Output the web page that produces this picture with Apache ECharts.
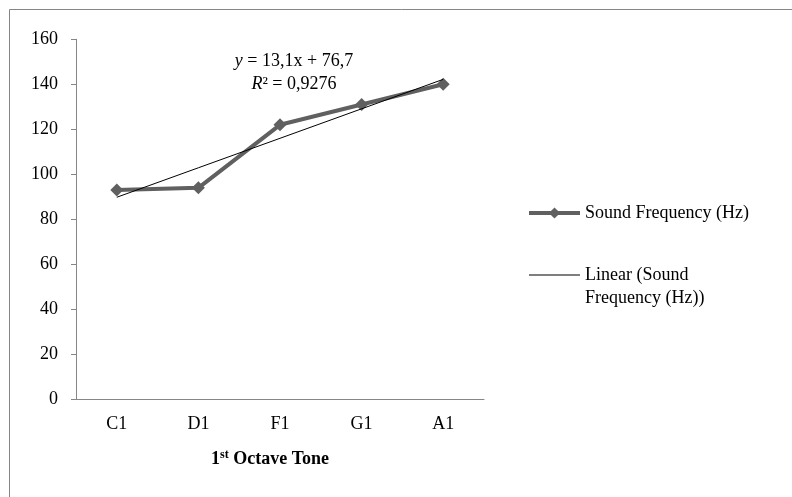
<!DOCTYPE html>
<html>
<head>
<meta charset="utf-8">
<script src="https://cdn.jsdelivr.net/npm/echarts@6/dist/echarts.min.js"></script>
<style>
  html, body { margin: 0; padding: 0; background: #fff; }
  #chart { width: 792px; height: 497px; }
</style>
</head>
<body>
<div id="chart"></div>
<script>
// Tones of the first octave and their measured sound frequency
const tones = ['C1', 'D1', 'F1', 'G1', 'A1'];
const frequency = [93, 94, 122, 131, 140];
// Linear trendline y = 13,1x + 76,7 evaluated at each tone
const trend = [89.8, 102.9, 116.0, 129.1, 142.2];
const yTicks = [0, 20, 40, 60, 80, 100, 120, 140, 160];

const seriesName = 'Sound Frequency (Hz)';
const trendName = 'Linear (Sound Frequency (Hz))';
const equationText = '{i|y} = 13,1x + 76,7\n{i|R}² = 0,9276';

const FONT = '"Liberation Serif", "Times New Roman", serif';
const AXIS_GRAY = '#868686';
const LINE_GRAY = '#606060';

const chart = echarts.init(document.getElementById('chart'), null, { renderer: 'canvas' });

chart.setOption({
  animation: false,
  backgroundColor: '#fff',
  textStyle: { fontFamily: FONT, color: '#000' },
  grid: { left: 76, right: 308, top: 39.3, bottom: 97.7, containLabel: false },
  xAxis: {
    type: 'category',
    data: tones,
    boundaryGap: true,
    axisLine: { lineStyle: { color: AXIS_GRAY, width: 1 } },
    axisTick: { show: false },
    axisLabel: { fontFamily: FONT, fontSize: 18, color: '#000', margin: 16 },
    name: '{b|1}{s|st}{b| Octave Tone}',
    nameLocation: 'middle',
    nameGap: 50,
    nameTextStyle: {
      padding: [0, 20, 0, 0],
      rich: {
        b: { fontFamily: FONT, fontSize: 18, fontWeight: 'bold', color: '#000', lineHeight: 20 },
        s: { fontFamily: FONT, fontSize: 12, fontWeight: 'bold', color: '#000', verticalAlign: 'top', lineHeight: 12 }
      }
    }
  },
  yAxis: {
    type: 'value',
    min: yTicks[0],
    max: yTicks[yTicks.length - 1],
    interval: yTicks[1] - yTicks[0],
    axisLine: { show: true, lineStyle: { color: AXIS_GRAY, width: 1 } },
    axisTick: { show: true, inside: false, length: 5, lineStyle: { color: AXIS_GRAY } },
    splitLine: { show: false },
    axisLabel: { fontFamily: FONT, fontSize: 18, color: '#000', margin: 18 }
  },
  legend: [
    {
      data: [seriesName],
      orient: 'vertical',
      left: 522,
      top: 196.5,
      itemWidth: 51,
      itemHeight: 14,
      itemGap: 0,
      selectedMode: false,
      lineStyle: { color: LINE_GRAY, width: 4 },
      itemStyle: { color: LINE_GRAY },
      textStyle: { fontFamily: FONT, fontSize: 18, color: '#000', lineHeight: 23 }
    },
    {
      data: [{ name: trendName, icon: 'rect' }],
      orient: 'vertical',
      left: 524,
      top: 235.5,
      itemWidth: 51,
      itemHeight: 1,
      itemGap: 0,
      selectedMode: false,
      itemStyle: { color: '#000', borderWidth: 0 },
      // leading empty line keeps the key beside the first text line
      formatter: name => '\n' + name.replace(' Frequency', '\nFrequency'),
      textStyle: { fontFamily: FONT, fontSize: 18, color: '#000', lineHeight: 23 }
    }
  ],
  graphic: [
    {
      type: 'rect',
      silent: true,
      shape: { x: 9.5, y: 9.5, width: 900, height: 600 },
      style: { fill: 'none', stroke: AXIS_GRAY, lineWidth: 1 }
    },
    {
      type: 'text',
      silent: true,
      x: 294,
      y: 50,
      style: {
        text: equationText,
        align: 'center',
        verticalAlign: 'top',
        fontFamily: FONT,
        fontSize: 18,
        lineHeight: 23,
        fill: '#000',
        rich: {
          i: { fontFamily: FONT, fontSize: 18, fontStyle: 'italic', lineHeight: 23, fill: '#000' }
        }
      }
    }
  ],
  series: [
    {
      name: seriesName,
      type: 'line',
      data: frequency,
      symbol: 'diamond',
      symbolSize: 13,
      showAllSymbol: true,
      lineStyle: { color: LINE_GRAY, width: 4 },
      itemStyle: { color: LINE_GRAY },
      z: 2
    },
    {
      name: trendName,
      type: 'line',
      data: trend,
      symbol: 'none',
      lineStyle: { color: '#000', width: 1 },
      itemStyle: { color: '#000' },
      z: 3
    }
  ]
});
</script>
</body>
</html>
